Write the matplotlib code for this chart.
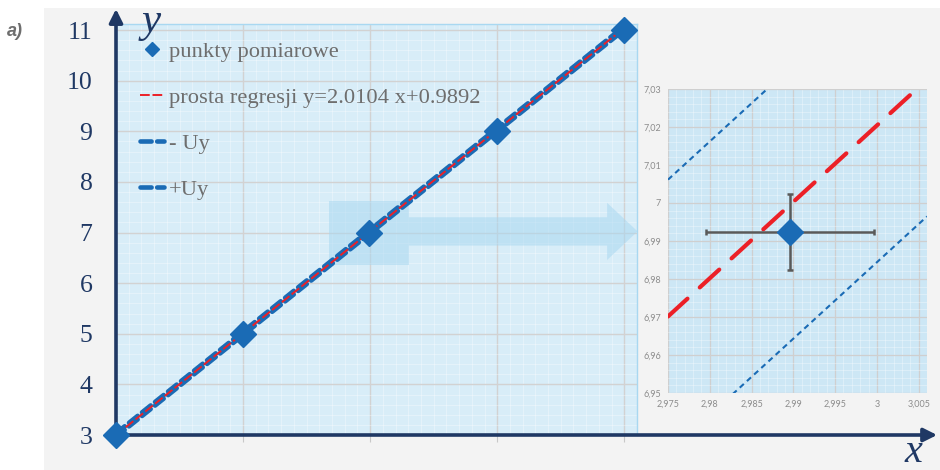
import matplotlib
matplotlib.use('Agg')
import matplotlib.pyplot as plt
import numpy as np
from matplotlib.patches import Rectangle, FancyArrow
from matplotlib.ticker import MultipleLocator

# ---------------- data ----------------
x_pts = [1.0, 2.0, 2.9896, 4.0, 5.0]
y_pts = [3.0, 5.0, 6.9923, 9.0, 11.0]
slope = 2.0104
intercept = 0.9892
u_y = 0.036
x_err = 0.01
y_err = 0.01
zoom_idx = 2

main_yticks = [3, 4, 5, 6, 7, 8, 9, 10, 11]
main_xticks = [1, 2, 3, 4, 5]

inset_xticks = [2.975, 2.98, 2.985, 2.99, 2.995, 3.0, 3.005]
inset_xlabels = ['2,975', '2,98', '2,985', '2,99', '2,995', '3', '3,005']
inset_yticks = [6.95, 6.96, 6.97, 6.98, 6.99, 7.0, 7.01, 7.02, 7.03]
inset_ylabels = ['6,95', '6,96', '6,97', '6,98', '6,99', '7', '7,01', '7,02', '7,03']

leg_points = 'punkty pomiarowe'
leg_reg = 'prosta regresji y=2.0104 x+0.9892'
leg_lo = '- Uy'
leg_hi = '+Uy'

# ---------------- styles ----------------
plt.rcParams['lines.scale_dashes'] = False
BLUE = '#1a6bb5'
RED = '#ec2027'
NAVY = '#1f3864'
SERIF = 'Liberation Serif'

W, H = 940, 470
fig = plt.figure(figsize=(W / 100, H / 100), dpi=100)
fig.patch.set_facecolor('white')


def px_ax(l, t, r, b, **kw):
    return fig.add_axes([l / W, 1 - b / H, (r - l) / W, (b - t) / H], **kw)


bg = px_ax(44, 8, 940, 470, zorder=-5)
bg.set_facecolor('#f3f3f3')
bg.set_xticks([])
bg.set_yticks([])
for s in bg.spines.values():
    s.set_visible(False)

# ---------------- main axes ----------------
ax = px_ax(116, 24, 637, 435)
ax.set_facecolor('#d8edf8')
ax.set_xlim(1, 5.1)
ax.set_ylim(3, 11.12)

xs = np.array([x_pts[0], x_pts[-1]])
reg = slope * xs + intercept

l_lo, = ax.plot(xs, reg - u_y, color=BLUE, lw=3.3, dashes=(8, 4),
                dash_capstyle='round', label=leg_lo, zorder=3)
l_hi, = ax.plot(xs, reg + u_y, color=BLUE, lw=3.3, dashes=(8, 4),
                dash_capstyle='round', label=leg_hi, zorder=3)
l_reg, = ax.plot(xs, reg, color=RED, lw=1.4, dashes=(7, 2),
                 label=leg_reg, zorder=4)
pts, = ax.plot(x_pts, y_pts, 'D', ms=13, color=BLUE, label=leg_points,
               zorder=5, clip_on=False)

# translucent zoom arrow (relative to the zoomed point)
cx, cy = x_pts[zoom_idx], y_pts[zoom_idx]
ax.add_patch(Rectangle((cx - 0.315, cy - 0.63), 0.63, 1.26,
                       facecolor='#a6d6f0', alpha=0.5, lw=0, zorder=2))
ax.add_patch(FancyArrow(cx + 0.315, cy + 0.03, 1.8, 0, width=0.56,
                        head_width=1.13, head_length=0.24,
                        length_includes_head=True, facecolor='#a6d6f0',
                        alpha=0.5, lw=0, zorder=2, clip_on=False))

ax.set_xticks(main_xticks)
ax.set_yticks(main_yticks)
ax.xaxis.set_minor_locator(MultipleLocator(0.1))
ax.yaxis.set_minor_locator(MultipleLocator(0.2))
ax.grid(True, which='major', color='#d2d2d2', lw=1, zorder=1)
ax.grid(True, which='minor', color='white', lw=0.5, alpha=0.45, zorder=1)
ax.set_axisbelow(True)
ax.tick_params(axis='x', which='major', direction='out', length=5,
               color='#c8c8c8', labelbottom=False)
ax.tick_params(axis='y', which='major', length=0, pad=17, labelsize=18.5,
               labelcolor=NAVY)
ax.tick_params(which='minor', length=0)
for lab in ax.get_yticklabels():
    lab.set_fontfamily(SERIF)
for s in ['left', 'bottom']:
    ax.spines[s].set_visible(False)
for s in ['top', 'right']:
    ax.spines[s].set_color('#a9d8f1')
    ax.spines[s].set_linewidth(1)

# axis arrows
ax.annotate('', xy=(0, 1.0365), xytext=(0, -0.002), xycoords='axes fraction',
            arrowprops=dict(arrowstyle='-|>', color=NAVY, lw=2.6,
                            mutation_scale=20, shrinkA=0, shrinkB=0),
            annotation_clip=False)
ax.annotate('', xy=(1.576, 0), xytext=(-0.006, 0), xycoords='axes fraction',
            arrowprops=dict(arrowstyle='-|>', color=NAVY, lw=2.6,
                            mutation_scale=20, shrinkA=0, shrinkB=0),
            annotation_clip=False)

leg = ax.legend(handles=[pts, l_reg, l_lo, l_hi], loc='upper left',
                bbox_to_anchor=(0.008, 1.008), frameon=False,
                prop={'family': SERIF, 'size': 16.2}, labelcolor='#6e6e6e',
                handlelength=1.05, labelspacing=1.12, handletextpad=0.2,
                markerscale=0.55, numpoints=1)

fig.text(151 / W, 1 - 22 / H, 'y', fontsize=31, style='italic',
         family=SERIF, color=NAVY, ha='center', va='center')
fig.text(913 / W, 1 - 452 / H, 'x', fontsize=29, style='italic',
         family=SERIF, color=NAVY, ha='center', va='center')
fig.text(7 / W, 1 - 32 / H, 'a)', fontsize=13, weight='bold', style='italic',
         family='Liberation Sans', color='#6e6e6e', ha='left', va='center')

# ---------------- inset ----------------
ins = px_ax(668, 89, 927, 393)
ins.set_facecolor('#cde7f5')
ins.set_xlim(2.975, 3.006)
ins.set_ylim(6.95, 7.03)
xi = np.array(ins.get_xlim())
ri = slope * xi + intercept
ins.plot(xi, ri, color=RED, lw=3, dashes=(19, 12), dash_capstyle='round',
         zorder=3)
ins.plot(xi, ri + u_y, color=BLUE, lw=1.5, dashes=(4, 3), zorder=3)
ins.plot(xi, ri - u_y, color=BLUE, lw=1.5, dashes=(4, 3), zorder=3)
ins.errorbar([x_pts[zoom_idx]], [y_pts[zoom_idx]], xerr=x_err, yerr=y_err,
             fmt='D', ms=13, color=BLUE, ecolor='#595959', elinewidth=1.8,
             capsize=2.5, capthick=1.8, zorder=4)
ins.set_xticks(inset_xticks, labels=inset_xlabels)
ins.set_yticks(inset_yticks, labels=inset_ylabels)
ins.xaxis.set_minor_locator(MultipleLocator(0.001))
ins.yaxis.set_minor_locator(MultipleLocator(0.002))
ins.grid(True, which='major', color='#cfcfcf', lw=0.9)
ins.grid(True, which='minor', color='white', lw=0.5, alpha=0.45)
ins.set_axisbelow(True)
ins.tick_params(which='both', length=0)
ins.tick_params(which='major', labelsize=6.5, labelcolor='#8c8c8c', pad=5)
for lab in ins.get_xticklabels() + ins.get_yticklabels():
    lab.set_fontfamily('Lato')
for s in ins.spines.values():
    s.set_visible(False)

fig.savefig('out.png', dpi=100)
